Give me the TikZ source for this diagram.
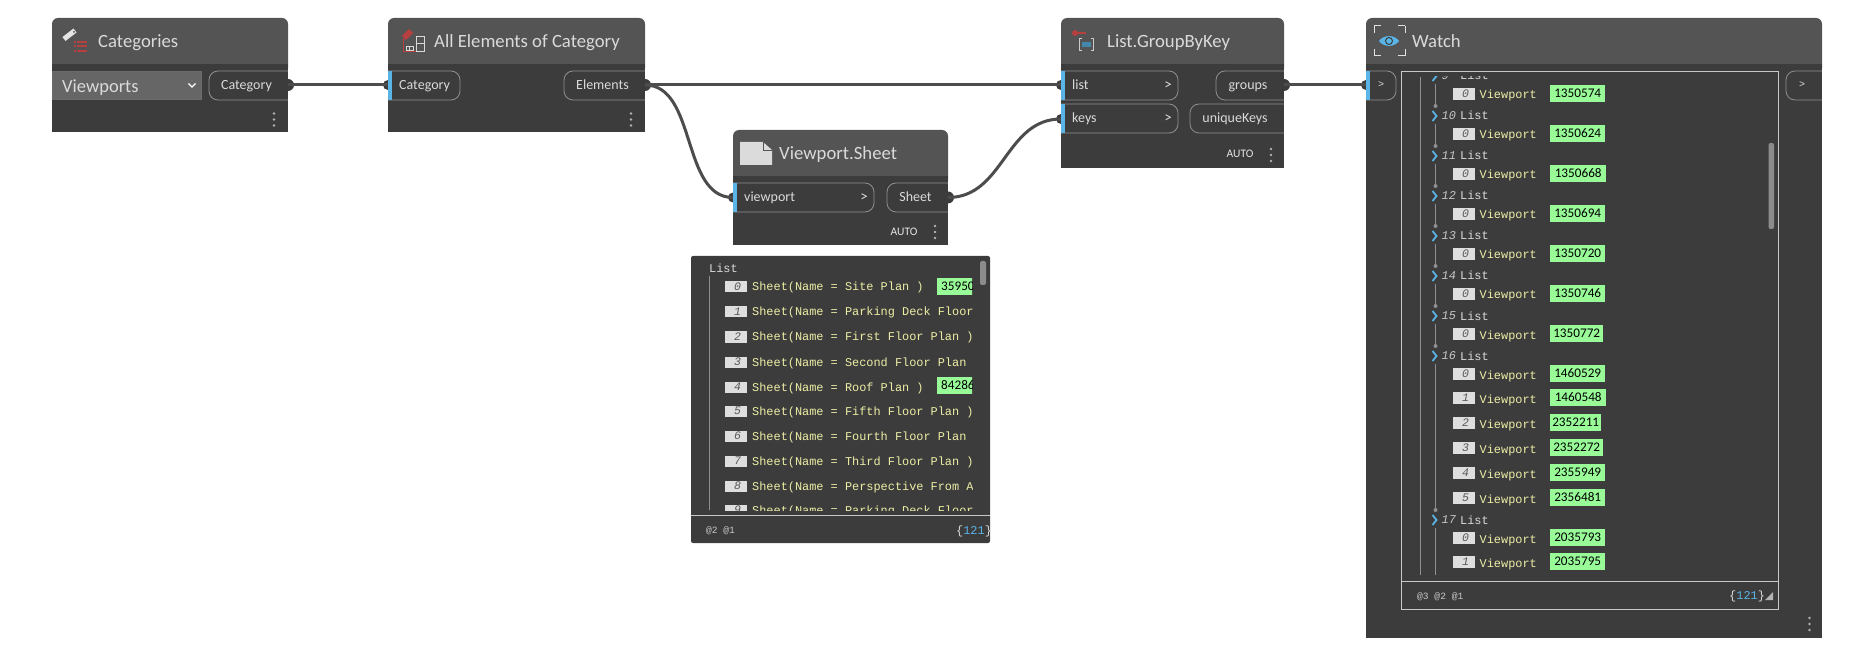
\documentclass[tikz,border=0pt]{standalone}
\usepackage{fontspec}
\setmainfont{Carlito}
\setmonofont{Liberation Mono}
\usetikzlibrary{calc}
\definecolor{headgray}{HTML}{545454}
\definecolor{bodygray}{HTML}{3C3C3C}
\definecolor{dropgray}{HTML}{666666}
\definecolor{linegray}{HTML}{8F8F8F}
\definecolor{framegray}{HTML}{C8C8C8}
\definecolor{textgray}{HTML}{DADADA}
\definecolor{portblue}{HTML}{5AB4E6}
\definecolor{iconred}{HTML}{B5403F}
\definecolor{valuegreen}{HTML}{98FB98}
\definecolor{itemyellow}{HTML}{EDEDA6}
\tikzset{
  nodehead/.style={fill=headgray, rounded corners=6pt},
  nodebody/.style={fill=bodygray},
  nodetitle/.style={anchor=base west, inner sep=0pt, text=textgray, font=\fontsize{18.7}{19}\selectfont},
  nubout/.style={circle, fill=bodygray, inner sep=0pt, minimum size=12pt},
  nubin/.style={circle, fill=bodygray, inner sep=0pt, minimum size=10pt},
  wire/.style={draw=black!70, line width=3pt},
  pill/.style={draw=linegray, line width=0.8pt, rounded corners=9pt},
  portlabel/.style={anchor=base west, inner sep=0pt, text=textgray, font=\fontsize{14}{14}\selectfont},
  indexbox/.style={fill=black!13, inner sep=0pt, minimum width=22pt, minimum height=12pt, text=black!65,
    font=\ttfamily\itshape\fontsize{11.5}{11.5}\selectfont},
  itemtext/.style={anchor=base west, inner sep=0pt, text=itemyellow, font=\ttfamily\fontsize{11.9}{12}\selectfont},
  listtext/.style={anchor=base west, inner sep=0pt, text=textgray, font=\ttfamily\fontsize{11.9}{12}\selectfont},
  listnum/.style={anchor=base west, inner sep=0pt, text=black!22, font=\ttfamily\itshape\fontsize{11.9}{12}\selectfont},
  valuebox/.style={anchor=west, fill=valuegreen, inner xsep=4pt, inner ysep=0pt, minimum height=17pt, text=black,
    font=\fontsize{13.2}{13}\selectfont},
  treeline/.style={draw=linegray, line width=0.9pt},
  footnum/.style={anchor=base west, inner sep=0pt, text=framegray, font=\ttfamily\fontsize{9.6}{10}\selectfont},
  autotext/.style={anchor=base, inner sep=0pt, text=white!90!black, font=\fontsize{11.5}{12}\selectfont}
}
% name, title, x1, y1, x2, y2
\def\NodeBox#1#2#3#4#5#6{%
  \fill[nodehead] (#3,#4) rectangle (#5,#4+56);
  \fill[nodebody] (#3,#4+46) rectangle (#5,#6);
  \node[nodetitle] (#1) at (#3+46,#4+29.5) {#2};
}
% name, label, x1, x2, top
\def\PortIn#1#2#3#4#5{%
  \draw[pill] (#3,#5) -- (#4,#5) -- (#4,#5+29) -- (#3,#5+29);
  \fill[portblue] (#3,#5) rectangle (#3+4,#5+29);
  \node[portlabel] (#1) at (#3+11,#5+18.5) {#2};
}
\def\PortOut#1#2#3#4#5{%
  \draw[pill] (#4,#5) -- (#3,#5) -- (#3,#5+29) -- (#4,#5+29);
  \node[portlabel, anchor=base] (#1) at ($(#3,#5+19)!0.5!(#4,#5+19)+(-2,0)$) {#2};
}
\def\Arrow#1#2{\node[text=textgray, inner sep=0pt, font=\fontsize{15}{15}\selectfont] at (#1,#2) {>};}
\def\NodeDots#1#2{%
  \foreach \d in {-6,0,6}
    \fill[black!30] (#1,#2+\d) circle (1.3);
}
\begin{document}
\begin{tikzpicture}[x=1pt,y=-1pt]
\useasboundingbox (0,0) rectangle (1850,652);

\node[nubout] (categoryOut) at (288,85) {};
\node[nubin] (elementsIn) at (388,85) {};
\node[nubout] (elementsOut) at (645,85) {};
\node[nubin] (viewportIn) at (733,197.5) {};
\node[nubout] (sheetOut) at (948,197.5) {};
\node[nubin] (listIn) at (1061,85) {};
\node[nubin] (keysIn) at (1061,119) {};
\node[nubout] (groupsOut) at (1284,85) {};
\node[nubin] (watchIn) at (1366,85) {};

\draw[wire] (categoryOut.center) -- (elementsIn.center);
\draw[wire] (elementsOut.center) -- (listIn.center);
\draw[wire] (elementsOut.center) .. controls +(52,0) and +(-52,0) .. (viewportIn.center);
\draw[wire] (sheetOut.center) .. controls +(56,0) and +(-56,0) .. (keysIn.center);
\draw[wire] (groupsOut.center) -- (watchIn.center);

% Categories
\NodeBox{categories}{Categories}{52}{18}{288}{132.5}
\fill[black!58] (52,71) rectangle (202,100);
\fill[dropgray] (53,72) rectangle (201,99);
\node[anchor=base west, inner sep=0pt, text=textgray, font=\fontsize{18.5}{19}\selectfont] (dropdown) at (62,92.5) {Viewports};
\draw[white, line width=1.2pt] (188.5,83.5) -- (192,87) -- (195.5,83.5);
\PortOut{category}{Category}{209}{288}{71}
\NodeDots{274}{119.5}
\draw[white!90!black, line width=5pt] (64,39) -- (75,30.5);
\fill[black!70] (74,32) circle (1);
\foreach \y in {42,46.5,51} {
  \fill[iconred] (73.5,\y-1) rectangle (75.5,\y+1);
  \fill[iconred] (77,\y-1) rectangle (87,\y+1);
}

% All Elements of Category
\NodeBox{allElements}{All Elements of Category}{388}{18}{645}{132.5}
\PortIn{categoryPort}{Category}{388}{460}{71}
\PortOut{elements}{Elements}{564}{645}{71}
\NodeDots{631}{119.5}
\draw[iconred, line width=6pt] (404,38) -- (411,31);
\draw[iconred, line width=0.7pt] (403.5,38) -- (403.5,51.5) -- (425,51.5);
\draw[black!15, line width=0.8pt] (416,36) rectangle (424,51);
\draw[black!15, line width=0.8pt] (416,43) -- (424,43);
\draw[black!15, line width=0.8pt] (406,46) rectangle (413,50);
\draw[black!15, line width=0.8pt] (409.5,46) -- (409.5,50);

% Viewport.Sheet
\NodeBox{viewportSheet}{Viewport.Sheet}{733}{130}{948}{245}
\PortIn{viewportPort}{viewport}{733}{874}{183}
\PortOut{sheet}{Sheet}{887}{948}{183}
\Arrow{864}{198}
\node[autotext] (autoSheet) at (904,236) {AUTO};
\NodeDots{935}{232}
\fill[black!14] (740,142) -- (763,142) -- (772,150) -- (772,165) -- (740,165) -- cycle;
\draw[headgray, line width=0.7pt] (763,142) -- (763,150) -- (772,150);

% List.GroupByKey
\NodeBox{groupByKey}{List.GroupByKey}{1061}{18}{1284}{168}
\PortIn{listPort}{list}{1061}{1178}{71}
\PortIn{keysPort}{keys}{1061}{1178}{104}
\PortOut{groups}{groups}{1216}{1284}{71}
\PortOut{uniqueKeys}{uniqueKeys}{1190}{1284}{104}
\Arrow{1168}{85.5}
\Arrow{1168}{119}
\node[autotext] (autoGroup) at (1240,158) {AUTO};
\NodeDots{1271}{155}
\fill[iconred] (1075,33) circle (3);
\draw[iconred, line width=1.6pt] (1075,33) -- (1086,33);
\draw[black!20, line width=0.9pt] (1082,38) -- (1079.5,38) -- (1079.5,50) -- (1082,50);
\draw[black!20, line width=0.9pt] (1090.5,38) -- (1093,38) -- (1093,50) -- (1090.5,50);
\fill[portblue!75!black] (1082,42) rectangle (1091,47.5);

% Watch
\NodeBox{watch}{Watch}{1366}{18}{1822}{638}
\PortIn{watchPort}{}{1366}{1396}{71}
\draw[pill] (1822,71) -- (1786,71) -- (1786,100) -- (1822,100);
\node[text=textgray, inner sep=0pt, font=\ttfamily\fontsize{10}{10}\selectfont] (watchArrowIn) at (1381,85) {>};
\node[text=textgray, inner sep=0pt, font=\ttfamily\fontsize{10}{10}\selectfont] (watchArrowOut) at (1802,85) {>};
\NodeDots{1809.5}{624}
\draw[portblue, line width=0.01pt, fill=portblue] (1379,41) .. controls (1384,34.5) and (1394,34.5) .. (1399,41)
   .. controls (1394,47.5) and (1384,47.5) .. (1379,41) -- cycle;
\draw[bodygray, line width=1pt] (1389,41) circle (3.5);
\foreach \sx/\sy in {1374/26,1405/26,1374/56,1405/56} {
  \draw[black!12, line width=1pt] (\sx,\sy) -- (\sx,41+0.53*\sy-0.53*41);
  \draw[black!12, line width=1pt] (\sx,\sy) -- (1389.5+0.53*\sx-0.53*1389.5,\sy);
}
\draw[framegray, line width=0.9pt] (1401.5,71) rectangle (1778,609);
\draw[framegray, line width=0.9pt] (1401.5,581) -- (1778,581);
\draw[treeline] (1420,77) -- (1420,575);
\fill[black!45, rounded corners=2pt] (1768.5,143) rectangle (1774,229);
\begin{scope}
\clip (1403,77) rectangle (1766,575);
\foreach \n/\y in {9/76,10/116,11/156,12/196,13/236,14/276,15/316,16/356,17/520} {
  \draw[portblue, line width=1.8pt] (1432.5,\y-5) -- (1436.5,\y) -- (1432.5,\y+5);
  \node[listnum] at (1441.5,\y+3.5) {\n};
  \node[listtext] at (1460,\y+4) {List};
}
\foreach \ya/\yb in {84/106,124/146,164/186,204/226,244/266,284/306,324/346,364/510} {
  \draw[treeline] (1435.5,\ya) -- (1435.5,\yb);
  \fill[linegray] (1435.5,\yb) circle (2);
}
\draw[treeline] (1435.5,528) -- (1435.5,575);
\foreach \y/\i/\v/\w in {95/0/1350574/55,135/0/1350624/55,175/0/1350668/56,215/0/1350694/55,255/0/1350720/55,
    295/0/1350746/55,335/0/1350772/53,375/0/1460529/55,399/1/1460548/56,424/2/2352211/51,449/3/2352272/53,
    474/4/2355949/55,499/5/2356481/55,539/0/2035793/55,563/1/2035795/55} {
  \node[indexbox] at (1464,\y-1) {\hspace*{3pt}\i};
  \node[itemtext] at (1479.5,\y+4) {Viewport};
  \node[valuebox, minimum width=\w pt, inner xsep=0pt] at (1550,\y-1.5) {\v};
}
\end{scope}
\node[footnum] (watchLevels) at (1417,599) {@3 @2 @1};
\node[listtext] (watchCount) at (1729,599.5) {\{\textcolor{portblue}{121}\}};
\fill[black!30] (1765,600) -- (1773,600) -- (1773,592) -- cycle;

% preview of Viewport.Sheet
\fill[bodygray, rounded corners=2pt] (691,256) rectangle (990,543);
\draw[framegray, line width=0.9pt] (691,515) -- (990,515);
\draw[treeline] (709,276) -- (709,510);
\node[listtext] (previewList) at (709,273) {List};
\fill[black!45, rounded corners=2pt] (980,261) rectangle (986,285);
\begin{scope}
\clip (691,276) rectangle (972,510);
\foreach \y/\i/\t in {287/0/{Sheet(Name = Site Plan )},312/1/{Sheet(Name = Parking Deck Floor},
    337/2/{Sheet(Name = First Floor Plan )},362/3/{Sheet(Name = Second Floor Plan},
    387/4/{Sheet(Name = Roof Plan )},411/5/{Sheet(Name = Fifth Floor Plan )},
    436/6/{Sheet(Name = Fourth Floor Plan},461/7/{Sheet(Name = Third Floor Plan )},
    486/8/{Sheet(Name = Perspective From A},510/9/{Sheet(Name = Parking Deck Floor}} {
  \node[indexbox, minimum height=11pt] at (736,\y) {\hspace*{3pt}\i};
  \node[itemtext] at (752,\y+4) {\t};
}
\node[valuebox] at (937,286.5) {35950};
\node[valuebox] at (937,385.5) {84286};
\end{scope}
\node[footnum] (previewLevels) at (706,533) {@2 @1};
\node[listtext] (previewCount) at (956,534) {\{\textcolor{portblue}{121}\}};
\end{tikzpicture}
\end{document}
